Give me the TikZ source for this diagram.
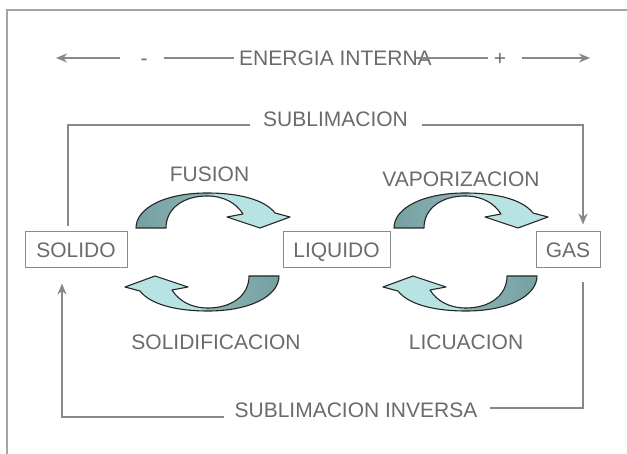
\documentclass[tikz,border=0pt]{standalone}
\usepackage{fontspec}
\setmainfont{Liberation Sans}
\usetikzlibrary{arrows.meta}
\definecolor{txt}{HTML}{6B6B6B}
\definecolor{lin}{HTML}{888888}
\definecolor{frm}{HTML}{A4A4A4}
\definecolor{boxc}{HTML}{8A8A8A}
\definecolor{adark}{HTML}{75A0A2}
\definecolor{adarkb}{HTML}{8CB4B5}
\definecolor{alight}{HTML}{B8E3E3}
\pgfdeclarehorizontalshading{arcL}{100bp}{color(0bp)=(adark); color(25bp)=(adark); color(48bp)=(adarkb); color(51bp)=(alight); color(100bp)=(alight)}
\pgfdeclarehorizontalshading{arcR}{100bp}{color(0bp)=(alight); color(49bp)=(alight); color(52bp)=(adarkb); color(75bp)=(adark); color(100bp)=(adark)}
\newcommand{\arcshp}[3]{%
 ({#1+#3*(-71.5)},{#2+#3*(-24)})
 .. controls ({#1+#3*(-71.5)},{#2+#3*(-44)}) and ({#1+#3*(-42.5)},{#2+#3*(-59)}) .. ({#1+#3*(-0.5)},{#2+#3*(-59)})
 .. controls ({#1+#3*(32.5)},{#2+#3*(-59)}) and ({#1+#3*(57.5)},{#2+#3*(-52)}) .. ({#1+#3*(67.5)},{#2+#3*(-39)})
 -- ({#1+#3*(82.5)},{#2+#3*(-35)})
 -- ({#1+#3*(52.5)},{#2+#3*(-24)})
 -- ({#1+#3*(19.5)},{#2+#3*(-35)})
 -- ({#1+#3*(35.5)},{#2+#3*(-38)})
 .. controls ({#1+#3*(28.5)},{#2+#3*(-49)}) and ({#1+#3*(16.5)},{#2+#3*(-56)}) .. ({#1+#3*(-0.5)},{#2+#3*(-56)})
 .. controls ({#1+#3*(-23.5)},{#2+#3*(-56)}) and ({#1+#3*(-41.5)},{#2+#3*(-44)}) .. ({#1+#3*(-41.5)},{#2+#3*(-24)})
 -- cycle}
\begin{document}
\begin{tikzpicture}[x=1pt,y=-1pt,
  font=\fontsize{21}{25}\selectfont,
  lbl/.style={text=txt, inner sep=0pt, text height=15pt, text depth=0pt},
  state/.style={draw=boxc, line width=1pt, text=txt, minimum height=36pt, inner sep=0pt, text height=15pt, text depth=0pt},
  conn/.style={draw=lin, line width=2.7pt},
  topl/.style={draw=lin, line width=2pt},
  tip/.style={-{Stealth[length=11pt,width=9pt]}},
  frame/.style={draw=frm, line width=2.4pt},
  arcst/.style={draw=black!85, line width=1.1pt, line join=round}]
\fill[white] (0,0) rectangle (627,454);
\useasboundingbox (0,0) rectangle (627,454);
\draw[frame] (7,456) -- (7,10) -- (629,10);

% energy row
\node[lbl] (ener) at (335.5,58) {ENERGIA INTERNA};
\node[lbl] (menos) at (144,58) {-};
\node[lbl] (mas) at (500,58) {+};
\coordinate (e0) at (56,58);
\coordinate (e1) at (120,58);
\coordinate (e2) at (164,58);
\coordinate (e3) at (234,58);
\coordinate (e4) at (416,58);
\coordinate (e5) at (488,58);
\coordinate (e6) at (522,58);
\coordinate (e7) at (590,58);
\draw[topl,tip] (e1) -- (e0);
\draw[topl] (e2) -- (e3);
\draw[topl] (e4) -- (e5);
\draw[topl,tip] (e6) -- (e7);

% states
\node[state, minimum width=102pt] (solido) at (76,250) {SOLIDO};
\node[state, minimum width=107pt] (liquido) at (336.5,250) {LIQUIDO};
\node[state, minimum width=64pt] (gas) at (568,250) {GAS};

% labels
\node[lbl] (subl) at (335.5,119.5) {SUBLIMACION};
\node[lbl] (fusion) at (209.5,174) {FUSION};
\node[lbl] (vapor) at (461,179.5) {VAPORIZACION};
\node[lbl] (solidif) at (216,342) {SOLIDIFICACION};
\node[lbl] (licua) at (466,342) {LICUACION};
\node[lbl] (sublinv) at (356,410) {SUBLIMACION INVERSA};

% sublimation connectors
\coordinate (sl) at (250,125);
\coordinate (sr) at (422,125);
\draw[conn] ([xshift=-8pt,yshift=5pt]solido.north) |- (sl);
\draw[conn,tip] (sr) -| ([xshift=15pt,yshift=7pt]gas.north);
\coordinate (bl) at (224,417);
\coordinate (br) at (490,408);
\draw[conn,tip] (bl) -| ([xshift=-14pt,yshift=-15pt]solido.south);
\draw[conn] ([xshift=15pt,yshift=-14pt]gas.south) |- (br);

% curved arrows
\shade[arcst, shading=arcL] \arcshp{207.5}{252}{1};
\shade[arcst, shading=arcR] \arcshp{207.5}{252}{-1};
\shade[arcst, shading=arcL] \arcshp{465.5}{252}{1};
\shade[arcst, shading=arcR] \arcshp{465.5}{252}{-1};
\end{tikzpicture}
\end{document}
